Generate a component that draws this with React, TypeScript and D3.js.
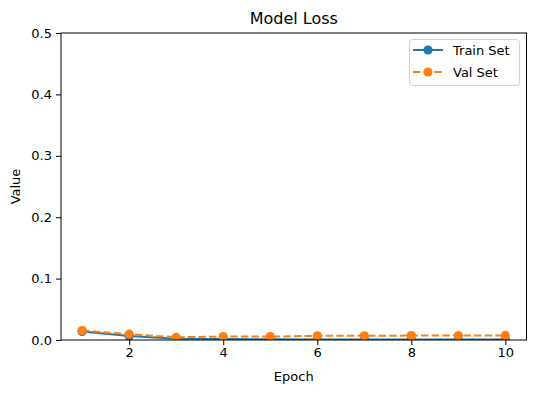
import React, { useEffect, useRef } from "react";
import * as d3 from "d3";

// chart data
const epochs = [1, 2, 3, 4, 5, 6, 7, 8, 9, 10];
const trainLoss = [0.014, 0.0065, 0.0022, 0.0015, 0.0012, 0.001, 0.001, 0.001, 0.001, 0.001];
const valLoss = [0.0155, 0.0095, 0.0045, 0.0055, 0.0055, 0.0068, 0.0068, 0.0072, 0.0072, 0.0075];
const xTicks = [2, 4, 6, 8, 10];
const yTicks = [0.0, 0.1, 0.2, 0.3, 0.4, 0.5];
const seriesNames = ["Train Set", "Val Set"];

const App = () => {
    const svgRef = useRef<SVGSVGElement | null>(null);

    useEffect(() => {
        const svg = d3.select(svgRef.current);
        svg.selectAll("*").remove();

        const width = 536;
        const height = 393;
        const left = 61;
        const right = 526.5;
        const top = 33;
        const bottom = 340;
        const font = "DejaVu Sans, Verdana, sans-serif";

        svg.attr("width", width).attr("height", height);

        svg.append("rect")
            .attr("width", width)
            .attr("height", height)
            .attr("fill", "white");

        // markers are clipped to the plot area like matplotlib does
        svg.append("defs")
            .append("clipPath")
            .attr("id", "plot-clip")
            .append("rect")
            .attr("x", left)
            .attr("y", top)
            .attr("width", right - left)
            .attr("height", bottom - top);

        const x = d3.scaleLinear().domain([0.55, 10.45]).range([left, right]);
        const y = d3.scaleLinear().domain([0, 0.5]).range([bottom, top]);

        // x axis
        const xAxis = svg.append("g")
            .attr("transform", `translate(0,${bottom})`)
            .call(d3.axisBottom(x).tickValues(xTicks).tickSize(5).tickPadding(3).tickFormat(d3.format("d")));
        xAxis.select(".domain").remove();
        xAxis.selectAll("line").attr("stroke", "black").attr("stroke-width", 1);
        xAxis.selectAll("text")
            .attr("fill", "black")
            .style("font-family", font)
            .style("font-size", "13px");

        // y axis
        const yAxis = svg.append("g")
            .attr("transform", `translate(${left},0)`)
            .call(d3.axisLeft(y).tickValues(yTicks).tickSize(5).tickPadding(4).tickFormat(d3.format(".1f")));
        yAxis.select(".domain").remove();
        yAxis.selectAll("line").attr("stroke", "black").attr("stroke-width", 1);
        yAxis.selectAll("text")
            .attr("fill", "black")
            .style("font-family", font)
            .style("font-size", "13px");

        const colors = ["#1f77b4", "#ff7f0e"];
        const dashes = [null, "7.4,3.2"];
        const allSeries = [trainLoss, valLoss];

        const line = d3.line<number>()
            .x((_, i) => x(epochs[i]))
            .y(d => y(d));

        const plot = svg.append("g").attr("clip-path", "url(#plot-clip)");

        allSeries.forEach((values, s) => {
            plot.append("path")
                .datum(values)
                .attr("d", line)
                .attr("fill", "none")
                .attr("stroke", colors[s])
                .attr("stroke-width", 2)
                .attr("stroke-dasharray", dashes[s]);

            plot.append("g")
                .selectAll("circle")
                .data(values)
                .enter()
                .append("circle")
                .attr("cx", (_, i) => x(epochs[i]))
                .attr("cy", d => y(d))
                .attr("r", 4.6)
                .attr("fill", colors[s]);
        });

        // axes frame
        svg.append("rect")
            .attr("x", left)
            .attr("y", top)
            .attr("width", right - left)
            .attr("height", bottom - top)
            .attr("fill", "none")
            .attr("stroke", "black")
            .attr("stroke-width", 1);

        // title and labels
        svg.append("text")
            .attr("x", (left + right) / 2)
            .attr("y", 24)
            .attr("text-anchor", "middle")
            .style("font-family", font)
            .style("font-size", "16px")
            .text("Model Loss");

        svg.append("text")
            .attr("x", (left + right) / 2)
            .attr("y", 381)
            .attr("text-anchor", "middle")
            .style("font-family", font)
            .style("font-size", "13px")
            .text("Epoch");

        svg.append("text")
            .attr("transform", `translate(20,${(top + bottom) / 2}) rotate(-90)`)
            .attr("text-anchor", "middle")
            .style("font-family", font)
            .style("font-size", "13px")
            .text("Value");

        // legend
        const legend = svg.append("g");
        legend.append("rect")
            .attr("x", 409.5)
            .attr("y", 39.5)
            .attr("width", 110)
            .attr("height", 46)
            .attr("rx", 3)
            .attr("fill", "white")
            .attr("fill-opacity", 0.8)
            .attr("stroke", "#d0d0d0")
            .attr("stroke-width", 1);

        seriesNames.forEach((name, s) => {
            const ly = 50 + s * 22;
            legend.append("line")
                .attr("x1", 413)
                .attr("x2", 443)
                .attr("y1", ly)
                .attr("y2", ly)
                .attr("stroke", colors[s])
                .attr("stroke-width", 2)
                .attr("stroke-dasharray", dashes[s]);
            legend.append("circle")
                .attr("cx", 428)
                .attr("cy", ly)
                .attr("r", 4.6)
                .attr("fill", colors[s]);
            legend.append("text")
                .attr("x", 453)
                .attr("y", ly + 4.5)
                .style("font-family", font)
                .style("font-size", "13px")
                .text(name);
        });
    }, []);

    return (
        <div style={{ position: "absolute", left: 0, top: 0, width: 536, height: 393, background: "white" }}>
            <svg ref={svgRef} style={{ display: "block" }} />
        </div>
    );
};

export default App;
